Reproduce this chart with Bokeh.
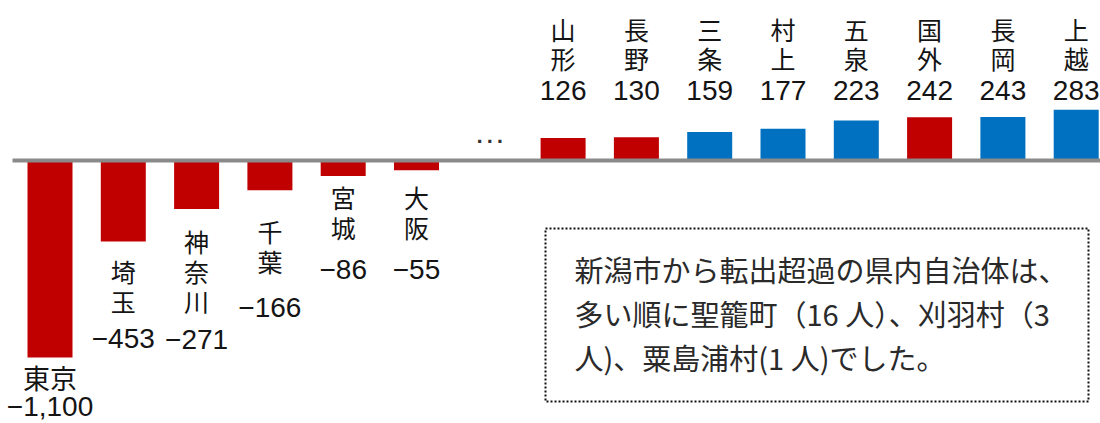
from bokeh.plotting import figure
from bokeh.models import Range1d, ColumnDataSource, BoxAnnotation
from bokeh.core.properties import value
from bokeh.embed import file_html
from bokeh.resources import INLINE

# ---------------- data ----------------
names = ["東京", "埼玉", "神奈川", "千葉", "宮城", "大阪",
         "山形", "長野", "三条", "村上", "五泉", "国外", "長岡", "上越"]
values = [-1100, -453, -271, -166, -86, -55,
          126, 130, 159, 177, 223, 242, 243, 283]
groups = ["県外", "県外", "県外", "県外", "県外", "県外",
          "県外", "県外", "県内", "県内", "県内", "県外", "県内", "県内"]
note_lines = ["新潟市から転出超過の県内自治体は、",
              "多い順に聖籠町（16 人）、刈羽村（3",
              "人)、粟島浦村(1 人)でした。"]

# ---------------- layout ----------------
W, H = 1100, 423
SLOT0, STEP = 49.5, 73.3      # px centre of first slot, px per slot
BASE, PXU = 160.0, 0.179      # px of zero line, px per person
GAP_SLOTS = 1                 # slot reserved for "…"
RED, BLUE = "#C00000", "#0070C0"
TXT = "#141414"
CJK = value("Noto Sans CJK JP")
NUM = value("Liberation Sans")


def px2x(px):
    return (px - SLOT0) / STEP


def px2y(py):
    return (BASE - py) / PXU


n_neg = sum(1 for v in values if v < 0)
slots = [i if i < n_neg else i + GAP_SLOTS for i in range(len(values))]
colors = [RED if g == "県外" else BLUE for g in groups]
vlabels = [f"{v:,}".replace("-", "−") for v in values]

p = figure(width=W, height=H, output_backend="svg", toolbar_location=None,
           x_range=Range1d(px2x(0), px2x(W)), y_range=Range1d(px2y(H), px2y(0)),
           min_border=0, outline_line_color=None, background_fill_color="white",
           border_fill_color="white")
p.axis.visible = False
p.grid.visible = False

src = ColumnDataSource(dict(x=slots, top=values, color=colors))
p.vbar(x="x", top="top", bottom=0, width=45 / STEP, fill_color="color",
       line_color=None, source=src)

# zero line
p.segment(x0=[px2x(12)], x1=[px2x(W)], y0=[0], y1=[0],
          line_color="#8a8a8a", line_width=4)

# ellipsis between groups
p.text(x=[n_neg - 1 + GAP_SLOTS], y=[px2y(131)], text=["…"],
       text_font=value("Liberation Sans"), text_font_size="32px",
       text_color="#333333", text_align="center", text_baseline="alphabetic")

# ---- category names, written vertically one character per row ----
PITCH = 30
pos_idx = [i for i, v in enumerate(values) if v > 0]
neg_idx = [i for i, v in enumerate(values) if v < 0]
neg_vertical = [False, True, True, True, True, True]
neg_first_char = [377, 270, 240, 230, 196, 196]   # px centre of first row
neg_num_mid = [406, 338, 339, 307, 269, 269]

cx, cy, ct = [], [], []
for i in pos_idx:
    for k, ch in enumerate(names[i]):
        cx.append(slots[i]); cy.append(px2y(28 + k * 29)); ct.append(ch)
hx, hy, ht = [], [], []
for i, vert, first in zip(neg_idx, neg_vertical, neg_first_char):
    if vert:
        for k, ch in enumerate(names[i]):
            cx.append(slots[i]); cy.append(px2y(first + k * PITCH)); ct.append(ch)
    else:
        hx.append(slots[i]); hy.append(px2y(first)); ht.append(names[i])

p.text(x=cx, y=cy, text=ct, text_font=CJK, text_font_size="25px",
       text_color=TXT, text_align="center", text_baseline="middle")
p.text(x=hx, y=hy, text=ht, text_font=CJK, text_font_size="27px",
       text_color=TXT, text_align="center", text_baseline="middle")

# ---- values ----
p.text(x=[slots[i] for i in pos_idx], y=[px2y(90)] * len(pos_idx),
       text=[vlabels[i] for i in pos_idx],
       text_font=NUM, text_font_size="28px", text_color=TXT,
       text_align="center", text_baseline="middle")
p.text(x=[slots[i] for i in neg_idx],
       y=[px2y(t) for t in neg_num_mid],
       text=[vlabels[i] for i in neg_idx],
       text_font=NUM, text_font_size="28px", text_color=TXT,
       text_align="center", text_baseline="middle")

# note box
p.add_layout(BoxAnnotation(left=px2x(545), right=px2x(1088),
                           top=px2y(228), bottom=px2y(401),
                           fill_color="white", fill_alpha=1.0,
                           line_color="#111111", line_alpha=1.0, line_width=2,
                           line_dash="2 2", level="underlay"))
p.text(x=[px2x(574)] * 3, y=[px2y(268), px2y(312), px2y(356)],
       text=note_lines, text_font=CJK, text_font_size="29px",
       text_color="#2a2a2a", text_align="left", text_baseline="middle")

open("out.html", "w").write(file_html(p, INLINE))
